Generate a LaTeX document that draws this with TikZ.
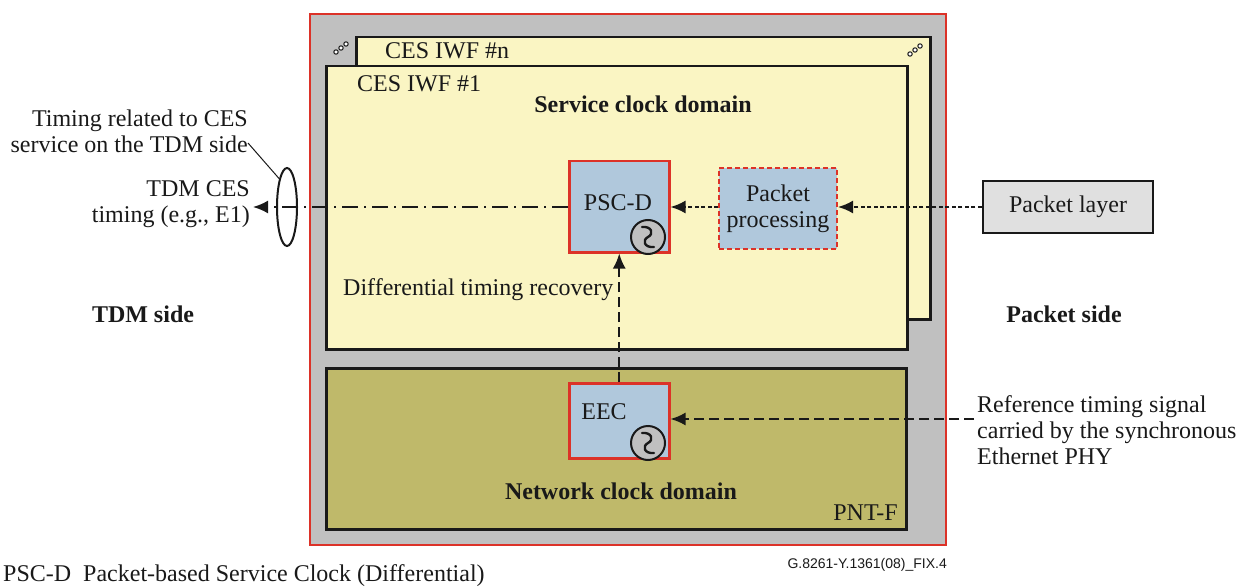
\documentclass[tikz,border=0pt]{standalone}
\usepackage{fontspec}
\setmainfont{Liberation Serif}
\newfontfamily\figsans{Liberation Sans}
\usetikzlibrary{arrows.meta,shapes.geometric}
\definecolor{redb}{RGB}{220,50,40}
\definecolor{grayfill}{RGB}{192,192,192}
\definecolor{yel}{RGB}{250,245,195}
\definecolor{olive}{RGB}{191,185,106}
\definecolor{bluef}{RGB}{176,200,220}
\definecolor{plfill}{RGB}{224,224,224}
\definecolor{ink}{RGB}{25,25,25}
\tikzset{
  txt/.style={font=\fontsize{24}{26}\selectfont, inner sep=0pt, text=ink},
  btxt/.style={font=\fontsize{24}{26}\selectfont\bfseries, inner sep=0pt, text=ink},
  domainbox/.style={draw=ink, line width=2.5pt},
  clockbox/.style={draw=redb, line width=2.5pt, fill=bluef},
  tip/.style={-{Latex[length=15pt,width=13pt]}},
  dotline/.style={tip, line width=2pt, draw=ink, dash pattern=on 4pt off 2.5pt},
  dashline/.style={tip, line width=2pt, draw=ink, dash pattern=on 10pt off 5pt},
  dashdotline/.style={tip, line width=2pt, draw=ink, dash pattern=on 16pt off 6pt on 2pt off 6pt},
  clock/.pic={
    \draw[line width=2pt, draw=ink, fill=grayfill] (0,0) circle (17pt);
    \draw[line width=2.4pt, draw=ink, line cap=round] (-6,-10) .. controls (4,-11) and (6,-3) .. (0,0) .. controls (-6,3) and (-4,11) .. (6,10);
  },
  tridots/.pic={
    \foreach \p in {(-5,4),(0,0),(5,-4)} \draw[line width=1pt, draw=ink, fill=white] \p circle (2.2pt);
  }
}
\begin{document}
\begin{tikzpicture}[x=1pt,y=-1pt]
\useasboundingbox (0,0) rectangle (1246,588);
% outer PNT box
\node[draw=redb, line width=2pt, fill=grayfill, minimum width=636pt, minimum height=531pt, inner sep=0pt, anchor=north west] (outer) at (309,13) {};
% CES IWF #n (back)
\node[domainbox, fill=yel, minimum width=574pt, minimum height=282pt, inner sep=0pt, anchor=north west] (iwfn) at (355,36) {};
\node[txt, anchor=west] (iwfnlab) at (385,51) {CES IWF \#n};
\pic at (341,48) {tridots};
\pic at (915,50) {tridots};
% CES IWF #1 (front)
\node[domainbox, fill=yel, minimum width=581pt, minimum height=283pt, inner sep=0pt, anchor=north west] (iwf1) at (325,65) {};
\node[txt, anchor=west] (iwf1lab) at (357,84) {CES IWF \#1};
\node[btxt] (scd) at (643,104) {Service clock domain};
% network clock domain
\node[domainbox, fill=olive, minimum width=580pt, minimum height=161pt, inner sep=0pt, anchor=north west] (ncd) at (325,367) {};
\node[btxt] (ncdlab) at (621,491) {Network clock domain};
\node[txt, anchor=east] (pntf) at (898,513) {PNT-F};
% PSC-D
\node[clockbox, minimum width=100pt, minimum height=91pt, inner sep=0pt, anchor=north west] (pscd) at (568,160) {};
\node[txt] (pscdlab) at (618,203) {PSC-D};
\pic at (648,237) {clock};
% Packet processing
\node[draw=redb, line width=2pt, dash pattern=on 5pt off 3pt, fill=bluef, minimum width=118pt, minimum height=81pt, inner sep=0pt, anchor=north west, align=center, txt] (pp) at (718,167) {Packet\\processing};
% Packet layer
\node[draw=ink, line width=2.5pt, fill=plfill, minimum width=170pt, minimum height=52pt, inner sep=0pt, txt] (pl) at (1068,207) {Packet layer};
% EEC
\node[clockbox, minimum width=100pt, minimum height=75pt, inner sep=0pt, anchor=north west] (eec) at (568,382) {};
\node[txt] (eeclab) at (604,412) {EEC};
\pic at (648,443) {clock};
% connectors
\draw[dotline] (pl.west) -- (pp.east |- pl.west);
\draw[dotline] (pp.west |- pl.west) -- (pscd.east |- pl.west);
\coordinate (tdmend) at (253,207);
\draw[dashdotline] (pscd.west |- tdmend) -- (tdmend);
\draw[dashline] (eec.north) -- (pscd.south);
\coordinate (refstart) at (974,419);
\draw[dashline] (refstart) -- (eec.east |- refstart);
% ellipse and its label
\node[draw=ink, line width=2pt, ellipse, minimum width=20pt, minimum height=78pt, inner sep=0pt] (ell) at (287,207) {};
\node[txt, anchor=east, align=right] (timrel) at (248,131) {Timing related to CES\\service on the TDM side};
\coordinate (leadstart) at (248,143);
\draw[line width=1pt, draw=ink] (leadstart) -- (ell.north west);
\node[txt, anchor=east, align=right] (tdmces) at (250,204) {TDM CES\\timing (e.g., E1)};
\node[txt, anchor=west] (dtr) at (343,290) {Differential timing recovery};
\node[btxt] (tdmside) at (143,314) {TDM side};
\node[btxt] (pktside) at (1064,314) {Packet side};
\node[txt, anchor=west, align=left] (reftxt) at (977,430) {Reference timing signal\\carried by the synchronous\\Ethernet PHY};
% footer
\node[txt, anchor=west, font=\fontsize{24}{26}\selectfont] (legend) at (3,576) {PSC-D\enspace Packet-based Service Clock (Differential)};
\node[anchor=east, inner sep=0pt, font=\figsans\fontsize{14}{16}\selectfont, text=ink] (figid) at (947,565) {G.8261-Y.1361(08)\_FIX.4};
\end{tikzpicture}
\end{document}
